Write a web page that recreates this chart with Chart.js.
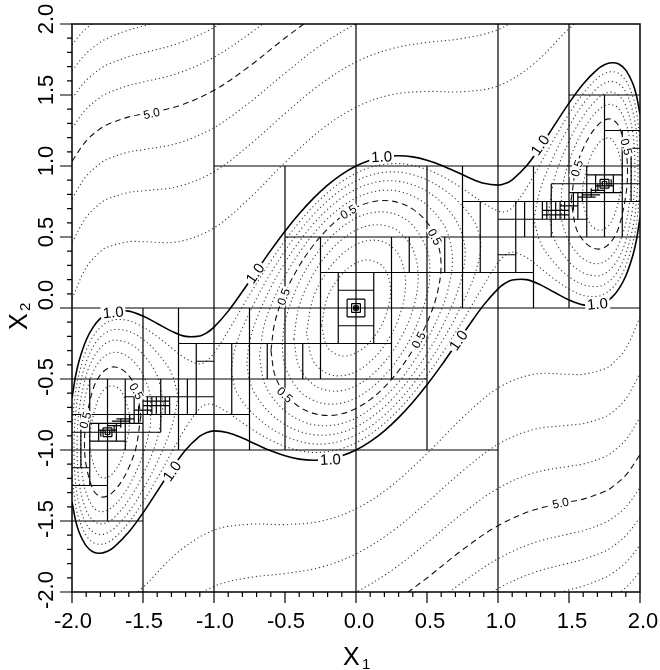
<!DOCTYPE html>
<html>
<head>
<meta charset="utf-8">
<script src="https://cdn.jsdelivr.net/npm/chart.js@4.4.0/dist/chart.umd.min.js"></script>
<style>
html, body { margin: 0; padding: 0; background: #fff; }
</style>
</head>
<body>
<canvas id="myChart" width="660" height="670"></canvas>
<script>
// axis ticks
var tickValues = [-2, -1.5, -1, -0.5, 0, 0.5, 1, 1.5, 2];
var tickLabels = ['-2.0', '-1.5', '-1.0', '-0.5', '0.0', '0.5', '1.0', '1.5', '2.0'];

// contour lines, [x1, x2] pairs
var lev01 = [[-0.243,-0.122],[-0.2,0.078],[-0.1,0.237],[0,0.316],[0.1,0.337],[0.2,0.278],[0.243,0.122],[0.2,-0.078],[0.1,-0.237],[0,-0.316],[-0.1,-0.337],[-0.2,-0.278],[-0.243,-0.122]];
var lev02 = [[-0.349,-0.175],[-0.3,0.076],[-0.2,0.263],[-0.1,0.377],[0,0.447],[0.1,0.477],[0.2,0.463],[0.3,0.376],[0.349,0.175],[0.3,-0.076],[0.2,-0.263],[0.1,-0.377],[0,-0.447],[-0.1,-0.477],[-0.2,-0.463],[-0.3,-0.376],[-0.349,-0.175]];
var lev03 = [[-0.438,-0.219],[-0.4,0.015],[-0.3,0.239],[-0.2,0.381],[-0.1,0.482],[0,0.548],[0.1,0.582],[0.2,0.581],[0.3,0.539],[0.4,0.415],[0.438,0.219],[0.4,-0.015],[0.3,-0.239],[0.2,-0.381],[0.1,-0.482],[0,-0.548],[-0.1,-0.582],[-0.2,-0.581],[-0.3,-0.539],[-0.4,-0.415],[-0.438,-0.219]];
var lev04 = [[-0.52,-0.26],[-0.5,-0.09],[-0.4,0.182],[-0.3,0.351],[-0.2,0.476],[-0.1,0.569],[0,0.633],[0.1,0.669],[0.2,0.676],[0.3,0.651],[0.4,0.582],[0.5,0.41],[0.52,0.26],[0.5,0.09],[0.4,-0.182],[0.3,-0.351],[0.2,-0.476],[0.1,-0.569],[0,-0.633],[-0.1,-0.669],[-0.2,-0.676],[-0.3,-0.651],[-0.4,-0.582],[-0.5,-0.41],[-0.52,-0.26]];
var lev05 = [[-0.599,-0.3],[-0.57,-0.094],[-0.5,0.104],[-0.4,0.296],[-0.3,0.442],[-0.2,0.557],[-0.1,0.645],[0,0.707],[0.1,0.745],[0.2,0.757],[0.3,0.742],[0.4,0.696],[0.5,0.604],[0.57,0.476],[0.599,0.3],[0.57,0.094],[0.5,-0.104],[0.4,-0.296],[0.3,-0.442],[0.2,-0.557],[0.1,-0.645],[0,-0.707],[-0.1,-0.745],[-0.2,-0.757],[-0.3,-0.742],[-0.4,-0.696],[-0.5,-0.604],[-0.57,-0.476],[-0.599,-0.3]];
var lev06 = [[-0.68,-0.34],[-0.65,-0.137],[-0.6,0.014],[-0.5,0.225],[-0.4,0.388],[-0.3,0.522],[-0.2,0.629],[-0.1,0.713],[0,0.775],[0.1,0.813],[0.2,0.829],[0.3,0.822],[0.4,0.788],[0.5,0.725],[0.6,0.614],[0.65,0.513],[0.68,0.34],[0.65,0.137],[0.6,-0.014],[0.5,-0.225],[0.4,-0.388],[0.3,-0.522],[0.2,-0.629],[0.1,-0.713],[0,-0.775],[-0.1,-0.813],[-0.2,-0.829],[-0.3,-0.822],[-0.4,-0.788],[-0.5,-0.725],[-0.6,-0.614],[-0.65,-0.513],[-0.68,-0.34]];
var lev07 = [[-0.769,-0.385],[-0.75,-0.241],[-0.7,-0.076],[-0.6,0.145],[-0.5,0.321],[-0.4,0.468],[-0.3,0.592],[-0.2,0.695],[-0.1,0.776],[0,0.837],[0.1,0.876],[0.2,0.895],[0.3,0.892],[0.4,0.868],[0.5,0.821],[0.6,0.745],[0.7,0.624],[0.75,0.51],[0.769,0.385],[0.75,0.241],[0.7,0.076],[0.6,-0.145],[0.5,-0.321],[0.4,-0.468],[0.3,-0.592],[0.2,-0.695],[0.1,-0.776],[0,-0.837],[-0.1,-0.876],[-0.2,-0.895],[-0.3,-0.892],[-0.4,-0.868],[-0.5,-0.821],[-0.6,-0.745],[-0.7,-0.624],[-0.75,-0.51],[-0.769,-0.385]];
var lev08 = [[-0.879,-0.44],[-0.85,-0.28],[-0.8,-0.142],[-0.7,0.068],[-0.6,0.246],[-0.5,0.402],[-0.4,0.539],[-0.3,0.657],[-0.2,0.755],[-0.1,0.835],[0,0.894],[0.1,0.935],[0.2,0.955],[0.3,0.957],[0.4,0.939],[0.5,0.902],[0.6,0.846],[0.7,0.768],[0.8,0.658],[0.85,0.57],[0.879,0.44],[0.85,0.28],[0.8,0.142],[0.7,-0.068],[0.6,-0.246],[0.5,-0.402],[0.4,-0.539],[0.3,-0.657],[0.2,-0.755],[0.1,-0.835],[0,-0.894],[-0.1,-0.935],[-0.2,-0.955],[-0.3,-0.957],[-0.4,-0.939],[-0.5,-0.902],[-0.6,-0.846],[-0.7,-0.768],[-0.8,-0.658],[-0.85,-0.57],[-0.879,-0.44]];

var lobe04R = [[1.596,0.798],[1.6,0.871],[1.65,1.06],[1.7,1.149],[1.75,1.193],[1.8,1.19],[1.85,1.093],[1.875,0.938],[1.85,0.757],[1.8,0.611],[1.75,0.557],[1.7,0.551],[1.65,0.591],[1.6,0.729],[1.596,0.798]];
var lobe05R = [[1.515,0.758],[1.55,0.987],[1.6,1.124],[1.65,1.219],[1.7,1.285],[1.75,1.324],[1.8,1.329],[1.85,1.283],[1.9,1.109],[1.912,0.956],[1.9,0.791],[1.85,0.567],[1.8,0.471],[1.75,0.426],[1.7,0.415],[1.65,0.431],[1.6,0.476],[1.55,0.563],[1.515,0.758]];
var lobe06R = [[1.446,0.723],[1.45,0.84],[1.5,1.032],[1.55,1.156],[1.6,1.253],[1.65,1.33],[1.7,1.388],[1.75,1.424],[1.8,1.433],[1.85,1.403],[1.9,1.304],[1.93,1.155],[1.939,0.97],[1.93,0.775],[1.9,0.596],[1.85,0.447],[1.8,0.367],[1.75,0.326],[1.7,0.312],[1.65,0.32],[1.6,0.347],[1.55,0.394],[1.5,0.468],[1.45,0.611],[1.446,0.723]];
var lobe07R = [[1.356,0.678],[1.4,0.921],[1.5,1.174],[1.6,1.352],[1.7,1.474],[1.75,1.509],[1.8,1.52],[1.85,1.498],[1.9,1.425],[1.95,1.229],[1.964,0.982],[1.95,0.721],[1.9,0.475],[1.85,0.352],[1.8,0.281],[1.75,0.241],[1.7,0.226],[1.6,0.248],[1.5,0.326],[1.4,0.479],[1.356,0.678]];
var lobe08R = [[1.252,0.626],[1.3,0.842],[1.4,1.086],[1.5,1.279],[1.6,1.437],[1.7,1.55],[1.75,1.583],[1.8,1.596],[1.85,1.579],[1.9,1.52],[1.95,1.381],[1.975,1.229],[1.986,0.993],[1.975,0.747],[1.95,0.569],[1.9,0.38],[1.85,0.271],[1.8,0.204],[1.75,0.167],[1.7,0.151],[1.6,0.164],[1.5,0.221],[1.4,0.314],[1.3,0.458],[1.252,0.626]];

var lobe04L = [[-1.596,-0.798],[-1.6,-0.871],[-1.65,-1.06],[-1.7,-1.149],[-1.75,-1.193],[-1.8,-1.19],[-1.85,-1.093],[-1.875,-0.938],[-1.85,-0.757],[-1.8,-0.611],[-1.75,-0.557],[-1.7,-0.551],[-1.65,-0.591],[-1.6,-0.729],[-1.596,-0.798]];
var lobe05L = [[-1.515,-0.758],[-1.55,-0.987],[-1.6,-1.124],[-1.65,-1.219],[-1.7,-1.285],[-1.75,-1.324],[-1.8,-1.329],[-1.85,-1.283],[-1.9,-1.109],[-1.912,-0.956],[-1.9,-0.791],[-1.85,-0.567],[-1.8,-0.471],[-1.75,-0.426],[-1.7,-0.415],[-1.65,-0.431],[-1.6,-0.476],[-1.55,-0.563],[-1.515,-0.758]];
var lobe06L = [[-1.446,-0.723],[-1.45,-0.84],[-1.5,-1.032],[-1.55,-1.156],[-1.6,-1.253],[-1.65,-1.33],[-1.7,-1.388],[-1.75,-1.424],[-1.8,-1.433],[-1.85,-1.403],[-1.9,-1.304],[-1.93,-1.155],[-1.939,-0.97],[-1.93,-0.775],[-1.9,-0.596],[-1.85,-0.447],[-1.8,-0.367],[-1.75,-0.326],[-1.7,-0.312],[-1.65,-0.32],[-1.6,-0.347],[-1.55,-0.394],[-1.5,-0.468],[-1.45,-0.611],[-1.446,-0.723]];
var lobe07L = [[-1.356,-0.678],[-1.4,-0.921],[-1.5,-1.174],[-1.6,-1.352],[-1.7,-1.474],[-1.75,-1.509],[-1.8,-1.52],[-1.85,-1.498],[-1.9,-1.425],[-1.95,-1.229],[-1.964,-0.982],[-1.95,-0.721],[-1.9,-0.475],[-1.85,-0.352],[-1.8,-0.281],[-1.75,-0.241],[-1.7,-0.226],[-1.6,-0.248],[-1.5,-0.326],[-1.4,-0.479],[-1.356,-0.678]];
var lobe08L = [[-1.252,-0.626],[-1.3,-0.842],[-1.4,-1.086],[-1.5,-1.279],[-1.6,-1.437],[-1.7,-1.55],[-1.75,-1.583],[-1.8,-1.596],[-1.85,-1.579],[-1.9,-1.52],[-1.95,-1.381],[-1.975,-1.229],[-1.986,-0.993],[-1.975,-0.747],[-1.95,-0.569],[-1.9,-0.38],[-1.85,-0.271],[-1.8,-0.204],[-1.75,-0.167],[-1.7,-0.151],[-1.6,-0.164],[-1.5,-0.221],[-1.4,-0.314],[-1.3,-0.458],[-1.252,-0.626]];

var lev09Upper = [[-2,-0.818],[-1.975,-0.59],[-1.95,-0.461],[-1.9,-0.298],[-1.85,-0.198],[-1.8,-0.136],[-1.75,-0.1],[-1.7,-0.082],[-1.6,-0.089],[-1.5,-0.134],[-1.4,-0.201],[-1.3,-0.28],[-1.2,-0.356],[-1.1,-0.394],[-1.05,-0.372],[-1,-0.318],[-0.9,-0.162],[-0.8,0.008],[-0.7,0.174],[-0.6,0.331],[-0.5,0.475],[-0.4,0.604],[-0.3,0.717],[-0.2,0.812],[-0.1,0.89],[0,0.949],[0.1,0.99],[0.2,1.012],[0.3,1.017],[0.4,1.004],[0.5,0.975],[0.6,0.931],[0.7,0.874],[0.8,0.808],[0.9,0.738],[1,0.683],[1.05,0.678],[1.1,0.707],[1.2,0.844],[1.3,1.02],[1.4,1.199],[1.5,1.366],[1.6,1.511],[1.7,1.618],[1.75,1.651],[1.8,1.664],[1.85,1.652],[1.9,1.602],[1.95,1.489],[1.975,1.385],[2,1.183]];
var lev09Lower = [[-2,-1.183],[-1.975,-1.385],[-1.95,-1.489],[-1.9,-1.602],[-1.85,-1.652],[-1.8,-1.664],[-1.75,-1.651],[-1.7,-1.618],[-1.6,-1.511],[-1.5,-1.366],[-1.4,-1.199],[-1.3,-1.02],[-1.2,-0.844],[-1.1,-0.707],[-1.05,-0.678],[-1,-0.683],[-0.9,-0.738],[-0.8,-0.808],[-0.7,-0.874],[-0.6,-0.931],[-0.5,-0.975],[-0.4,-1.004],[-0.3,-1.017],[-0.2,-1.012],[-0.1,-0.99],[0,-0.949],[0.1,-0.89],[0.2,-0.812],[0.3,-0.717],[0.4,-0.604],[0.5,-0.475],[0.6,-0.331],[0.7,-0.174],[0.8,-0.008],[0.9,0.162],[1,0.318],[1.05,0.372],[1.1,0.394],[1.2,0.356],[1.3,0.28],[1.4,0.201],[1.5,0.134],[1.6,0.089],[1.7,0.082],[1.75,0.1],[1.8,0.136],[1.85,0.198],[1.9,0.298],[1.95,0.461],[1.975,0.59],[2,0.818]];
var lev10Upper = [[-2,-0.635],[-1.975,-0.48],[-1.95,-0.371],[-1.9,-0.225],[-1.85,-0.133],[-1.8,-0.073],[-1.75,-0.038],[-1.7,-0.02],[-1.6,-0.022],[-1.5,-0.057],[-1.4,-0.109],[-1.3,-0.163],[-1.2,-0.2],[-1.1,-0.197],[-1.05,-0.174],[-1,-0.135],[-0.9,-0.022],[-0.8,0.116],[-0.7,0.262],[-0.6,0.406],[-0.5,0.541],[-0.4,0.664],[-0.3,0.772],[-0.2,0.865],[-0.1,0.941],[0,1],[0.1,1.041],[0.2,1.065],[0.3,1.072],[0.4,1.064],[0.5,1.041],[0.6,1.006],[0.7,0.962],[0.8,0.916],[0.9,0.878],[1,0.865],[1.05,0.876],[1.1,0.903],[1.2,1.0],[1.3,1.137],[1.4,1.291],[1.5,1.443],[1.6,1.578],[1.7,1.68],[1.75,1.713],[1.8,1.727],[1.85,1.718],[1.9,1.675],[1.95,1.579],[1.975,1.496],[2,1.365]];
var lev10Lower = [[-2,-1.365],[-1.975,-1.496],[-1.95,-1.579],[-1.9,-1.675],[-1.85,-1.718],[-1.8,-1.727],[-1.75,-1.713],[-1.7,-1.68],[-1.6,-1.578],[-1.5,-1.443],[-1.4,-1.291],[-1.3,-1.137],[-1.2,-1.0],[-1.1,-0.903],[-1.05,-0.876],[-1,-0.865],[-0.9,-0.878],[-0.8,-0.916],[-0.7,-0.962],[-0.6,-1.006],[-0.5,-1.041],[-0.4,-1.064],[-0.3,-1.072],[-0.2,-1.065],[-0.1,-1.041],[0,-1],[0.1,-0.941],[0.2,-0.865],[0.3,-0.772],[0.4,-0.664],[0.5,-0.541],[0.6,-0.406],[0.7,-0.262],[0.8,-0.116],[0.9,0.022],[1,0.135],[1.05,0.174],[1.1,0.197],[1.2,0.2],[1.3,0.163],[1.4,0.109],[1.5,0.057],[1.6,0.022],[1.7,0.02],[1.75,0.038],[1.8,0.073],[1.85,0.133],[1.9,0.225],[1.95,0.371],[1.975,0.48],[2,0.635]];

var lev2Upper = [[-2,0.065],[-1.9,0.285],[-1.8,0.398],[-1.75,0.429],[-1.6,0.467],[-1.5,0.467],[-1.25,0.467],[-1,0.564],[-0.75,0.773],[-0.5,1.025],[-0.25,1.252],[0,1.414],[0.25,1.502],[0.5,1.525],[0.75,1.523],[1,1.564],[1.25,1.717],[1.5,1.967],[1.75,2.179]];
var lev2Lower = [[-1.75,-2.179],[-1.5,-1.967],[-1.25,-1.717],[-1,-1.564],[-0.75,-1.523],[-0.5,-1.525],[-0.25,-1.502],[0,-1.414],[0.25,-1.252],[0.5,-1.025],[0.75,-0.773],[1,-0.564],[1.25,-0.467],[1.5,-0.467],[1.6,-0.467],[1.75,-0.429],[1.8,-0.398],[1.9,-0.285],[2,-0.065]];
var lev3Upper = [[-2,0.461],[-1.9,0.639],[-1.8,0.738],[-1.75,0.768],[-1.6,0.814],[-1.5,0.825],[-1.25,0.856],[-1,0.96],[-0.75,1.148],[-0.5,1.37],[-0.25,1.576],[0,1.732],[0.25,1.826],[0.5,1.87],[0.75,1.898],[1,1.96],[1.25,2.106]];
var lev3Lower = [[-1.25,-2.106],[-1,-1.96],[-0.75,-1.898],[-0.5,-1.87],[-0.25,-1.826],[0,-1.732],[0.25,-1.576],[0.5,-1.37],[0.75,-1.148],[1,-0.96],[1.25,-0.856],[1.5,-0.825],[1.6,-0.814],[1.75,-0.768],[1.8,-0.738],[1.9,-0.639],[2,-0.461]];
var lev4Upper = [[-2,0.77],[-1.9,0.928],[-1.8,1.019],[-1.75,1.049],[-1.6,1.099],[-1.5,1.115],[-1.25,1.162],[-1,1.27],[-0.75,1.447],[-0.5,1.654],[-0.25,1.849],[0,2.0],[0.25,2.099]];
var lev4Lower = [[-0.25,-2.099],[0,-2.0],[0.25,-1.849],[0.5,-1.654],[0.75,-1.447],[1,-1.27],[1.25,-1.162],[1.5,-1.115],[1.6,-1.099],[1.75,-1.049],[1.8,-1.019],[1.9,-0.928],[2,-0.77]];
var lev5Upper = [[-2,1.033],[-1.9,1.177],[-1.8,1.264],[-1.75,1.293],[-1.6,1.346],[-1.5,1.367],[-1.25,1.423],[-1,1.533],[-0.75,1.703],[-0.5,1.901],[-0.25,2.087]];
var lev5Lower = [[0.25,-2.087],[0.5,-1.901],[0.75,-1.703],[1,-1.533],[1.25,-1.423],[1.5,-1.367],[1.6,-1.346],[1.75,-1.293],[1.8,-1.264],[1.9,-1.177],[2,-1.033]];
var lev6Upper = [[-2,1.266],[-1.9,1.401],[-1.8,1.484],[-1.75,1.513],[-1.6,1.568],[-1.5,1.591],[-1.25,1.654],[-1,1.766],[-0.75,1.931],[-0.5,2.122]];
var lev6Lower = [[0.5,-2.122],[0.75,-1.931],[1,-1.766],[1.25,-1.654],[1.5,-1.591],[1.6,-1.568],[1.75,-1.513],[1.8,-1.484],[1.9,-1.401],[2,-1.266]];
var lev7Upper = [[-2,1.476],[-1.9,1.604],[-1.8,1.685],[-1.75,1.714],[-1.6,1.77],[-1.5,1.796],[-1.25,1.864],[-1,1.976],[-0.75,2.139]];
var lev7Lower = [[0.75,-2.139],[1,-1.976],[1.25,-1.864],[1.5,-1.796],[1.6,-1.77],[1.75,-1.714],[1.8,-1.685],[1.9,-1.604],[2,-1.476]];
var lev8Upper = [[-2,1.671],[-1.9,1.793],[-1.8,1.872],[-1.75,1.9],[-1.6,1.958],[-1.5,1.985],[-1.25,2.057]];
var lev8Lower = [[1.25,-2.057],[1.5,-1.985],[1.6,-1.958],[1.75,-1.9],[1.8,-1.872],[1.9,-1.793],[2,-1.671]];
var lev9Upper = [[-2,1.852],[-1.95,1.917],[-1.9,1.969],[-1.8,2.047]];
var lev9Lower = [[1.8,-2.047],[1.9,-1.969],[1.95,-1.917],[2,-1.852]];

// box edges of the subdivision: [y, xFrom, xTo] and [x, yFrom, yTo]
var hLines = [
    [0,-2,2],[1,-1,2],[-1,-2,1],[0.5,-0.5,2],[-0.5,-2,0.5],
    [1.5,1.5,2],[-1.5,-2,-1.5],[0.75,0.75,2],[-0.75,-2,-0.75],
    [0.25,-0.25,1.25],[-0.25,-1.25,0.25],
    [0.125,-0.125,0.125],[-0.125,-0.125,0.125],
    [0.0625,-0.0625,0.0625],[-0.0625,-0.0625,0.0625],
    [0.031,-0.031,0.031],[-0.031,-0.031,0.031],[0.016,-0.016,0.016],[-0.016,-0.016,0.016],
    [0.008,-0.008,0.008],[-0.008,-0.008,0.008],
    [0.375,1.0,1.125],[0.875,1.375,2],[1.25,1.75,2],[1.125,1.875,2],[0.625,1.0,1.625],
    [0.8125,1.5,1.875],[0.9375,1.625,1.875],[0.6875,1.3125,1.5],[0.71875,1.4375,1.5625],
    [0.78125,1.5625,1.6875],[0.84375,1.71875,1.78125],[0.90625,1.71875,1.78125],
    [0.859,1.734,1.766],[0.891,1.734,1.766],
    [0.65625,1.3125,1.5],[0.796875,1.59375,1.71875],[0.828125,1.65625,1.75],[0.859375,1.6875,1.8125],
    [-0.375,-1.125,-1.0],[-0.875,-2,-1.375],[-1.25,-2,-1.75],[-1.125,-2,-1.875],[-0.625,-1.625,-1.0],
    [-0.8125,-1.875,-1.5],[-0.9375,-1.875,-1.625],[-0.6875,-1.5,-1.3125],[-0.71875,-1.5625,-1.4375],
    [-0.78125,-1.6875,-1.5625],[-0.84375,-1.78125,-1.71875],[-0.90625,-1.78125,-1.71875],
    [-0.859,-1.766,-1.734],[-0.891,-1.766,-1.734],
    [-0.65625,-1.5,-1.3125],[-0.796875,-1.71875,-1.59375],[-0.828125,-1.75,-1.65625],[-0.859375,-1.8125,-1.6875]
];
var vLines = [
    [-1,-2,2],[0,-2,2],[1,-2,2],[1.5,0,2],[-1.5,-2,0],
    [0.5,-1,1],[-0.5,-1,1],[1.75,0.5,1.5],[-1.75,-1.5,-0.5],
    [0.75,0,1],[-0.75,-1,0],[1.25,0,1],[-1.25,-1,0],
    [0.25,-0.5,0.5],[-0.25,-0.5,0.5],[0.125,-0.25,0.25],[-0.125,-0.25,0.25],
    [0.0625,-0.0625,0.0625],[-0.0625,-0.0625,0.0625],
    [0.031,-0.031,0.031],[-0.031,-0.031,0.031],[0.016,-0.016,0.016],[-0.016,-0.016,0.016],
    [0.008,-0.008,0.008],[-0.008,-0.008,0.008],
    [0.375,0.25,0.5],[0.625,0.25,0.5],[-0.375,-0.5,-0.25],[-0.625,-0.5,-0.25],
    [0.875,0.25,0.75],[-0.875,-0.75,-0.25],[1.125,0.25,0.75],[-1.125,-0.75,-0.25],
    [1.875,0.5,1.25],[1.625,0.5,1.0],[1.375,0.5,0.875],[1.1875,0.5,0.75],
    [1.4375,0.625,0.75],[1.5625,0.625,0.8125],[1.3125,0.625,0.75],
    [1.6875,0.8125,0.9375],[1.8125,0.8125,0.9375],[1.71875,0.84375,0.90625],[1.78125,0.84375,0.90625],
    [1.734,0.859,0.891],[1.766,0.859,0.891],[1.9375,0.75,1.125],
    [1.34375,0.625,0.75],[1.40625,0.625,0.75],[1.46875,0.625,0.75],[1.53125,0.6875,0.8125],
    [1.59375,0.75,0.8125],[1.65625,0.78125,0.84375],[1.703,0.828,0.875],[1.797,0.859,0.906],
    [-1.875,-1.25,-0.5],[-1.625,-1.0,-0.5],[-1.375,-0.875,-0.5],[-1.1875,-0.75,-0.5],
    [-1.4375,-0.75,-0.625],[-1.5625,-0.8125,-0.625],[-1.3125,-0.75,-0.625],
    [-1.6875,-0.9375,-0.8125],[-1.8125,-0.9375,-0.8125],[-1.71875,-0.90625,-0.84375],[-1.78125,-0.90625,-0.84375],
    [-1.766,-0.891,-0.859],[-1.734,-0.891,-0.859],[-1.9375,-1.125,-0.75],
    [-1.34375,-0.75,-0.625],[-1.40625,-0.75,-0.625],[-1.46875,-0.75,-0.625],[-1.53125,-0.8125,-0.6875],
    [-1.59375,-0.8125,-0.75],[-1.65625,-0.84375,-0.78125],[-1.703,-0.875,-0.828],[-1.797,-0.906,-0.859]
];

// contour labels: text, x1, x2, rotation in degrees
var contourLabels = [
    ['1.0', 0.18, 1.066, -3], ['1.0', 1.296, 1.148, -55], ['1.0', 1.70, 0.03, -5], ['1.0', 0.72, -0.228, -55],
    ['1.0', -0.18, -1.066, -3], ['1.0', -1.296, -1.148, -55], ['1.0', -1.71, -0.03, -5], ['1.0', -0.711, 0.244, -55],
    ['0.5', -0.054, 0.678, -32], ['0.5', 0.556, 0.502, 62], ['0.5', -0.512, 0.08, -70], ['0.5', 0.439, -0.225, -62],
    ['0.5', -0.5, -0.61, 43], ['0.5', 1.554, 0.984, -72], ['0.5', 1.906, 1.136, 75],
    ['0.5', -1.544, -0.585, 60], ['0.5', -1.908, -0.79, -75],
    ['5.0', -1.44, 1.372, -12], ['5.0', 1.44, -1.372, -12]
];

var dotLines = [lev01, lev02, lev03, lev04, lev06, lev07, lev08,
    lobe04R, lobe06R, lobe07R, lobe08R, lobe04L, lobe06L, lobe07L, lobe08L,
    lev09Upper, lev09Lower, lev2Upper, lev2Lower, lev3Upper, lev3Lower, lev4Upper, lev4Lower,
    lev6Upper, lev6Lower, lev7Upper, lev7Lower, lev8Upper, lev8Lower, lev9Upper, lev9Lower];
var dashLines = [lev05, lobe05R, lobe05L, lev5Upper, lev5Lower];
var solidLines = [lev10Upper, lev10Lower];

function toPoints(arr) {
    return arr.map(function (p) { return {x: p[0], y: p[1]}; });
}

var datasets = [];
dotLines.forEach(function (c) {
    datasets.push({data: toPoints(c), showLine: true, pointRadius: 0, tension: 0.35,
        borderColor: '#3a3a3a', borderWidth: 1.1, borderDash: [1.2, 2.8], fill: false});
});
dashLines.forEach(function (c) {
    datasets.push({data: toPoints(c), showLine: true, pointRadius: 0, tension: 0.35,
        borderColor: '#111', borderWidth: 1.1, borderDash: [6, 4], fill: false});
});
solidLines.forEach(function (c) {
    datasets.push({data: toPoints(c), showLine: true, pointRadius: 0, tension: 0.35,
        borderColor: '#000', borderWidth: 1.6, fill: false});
});

var FONT = '"Liberation Sans", Arial, Helvetica, sans-serif';

var decor = {
    id: 'decor',
    afterDatasetsDraw: function (chart) {
        var ctx = chart.ctx, a = chart.chartArea;
        var xs = chart.scales.x, ys = chart.scales.y;
        ctx.save();
        ctx.beginPath();
        ctx.rect(a.left, a.top, a.right - a.left, a.bottom - a.top);
        ctx.clip();
        // boxes
        ctx.strokeStyle = '#000';
        ctx.lineWidth = 1.2;
        ctx.beginPath();
        hLines.forEach(function (l) {
            var py = ys.getPixelForValue(l[0]);
            ctx.moveTo(xs.getPixelForValue(l[1]), py);
            ctx.lineTo(xs.getPixelForValue(l[2]), py);
        });
        vLines.forEach(function (l) {
            var px = xs.getPixelForValue(l[0]);
            ctx.moveTo(px, ys.getPixelForValue(l[1]));
            ctx.lineTo(px, ys.getPixelForValue(l[2]));
        });
        ctx.stroke();
        // contour labels
        ctx.textAlign = 'center';
        ctx.textBaseline = 'middle';
        contourLabels.forEach(function (l) {
            var big = l[0] === '1.0';
            ctx.font = (big ? '15px ' : '12px ') + FONT;
            var w = ctx.measureText(l[0]).width + 4;
            var h = big ? 12 : 10;
            ctx.save();
            ctx.translate(xs.getPixelForValue(l[1]), ys.getPixelForValue(l[2]));
            ctx.rotate(l[3] * Math.PI / 180);
            ctx.fillStyle = '#fff';
            ctx.fillRect(-w / 2, -h / 2, w, h);
            ctx.fillStyle = '#000';
            ctx.fillText(l[0], 0, 1);
            ctx.restore();
        });
        ctx.restore();
    },
    afterDraw: function (chart) {
        var ctx = chart.ctx, a = chart.chartArea;
        var xs = chart.scales.x, ys = chart.scales.y;
        ctx.save();
        ctx.strokeStyle = '#000';
        ctx.lineWidth = 1.5;
        ctx.strokeRect(a.left, a.top, a.right - a.left, a.bottom - a.top);
        // ticks
        ctx.lineWidth = 1.2;
        ctx.beginPath();
        for (var i = -20; i <= 20; i++) {
            var v = i / 10, major = (i % 5 === 0);
            var px = xs.getPixelForValue(v), py = ys.getPixelForValue(v);
            ctx.moveTo(px, a.bottom);
            ctx.lineTo(px, a.bottom + (major ? 11 : 5));
            ctx.moveTo(a.left, py);
            ctx.lineTo(a.left - (major ? 12 : 5), py);
        }
        ctx.stroke();
        // tick labels
        ctx.fillStyle = '#000';
        ctx.font = '22px ' + FONT;
        ctx.textAlign = 'center';
        ctx.textBaseline = 'alphabetic';
        tickValues.forEach(function (v, k) {
            var px = xs.getPixelForValue(v);
            ctx.fillText(tickLabels[k], px + (v < 0 ? 1 : 3), 628);
            var py = ys.getPixelForValue(v);
            var off = v === 0 ? -13 : (v > 0 ? -5 : -2);
            ctx.save();
            ctx.translate(53, py + off);
            ctx.rotate(-Math.PI / 2);
            ctx.fillText(tickLabels[k], 0, 0);
            ctx.restore();
        });
        // axis titles
        ctx.textAlign = 'left';
        ctx.font = '25px ' + FONT;
        ctx.fillText('X', 343, 665);
        ctx.font = '15px ' + FONT;
        ctx.fillText('1', 362, 669);
        ctx.save();
        ctx.translate(27, 330);
        ctx.rotate(-Math.PI / 2);
        ctx.font = '25px ' + FONT;
        ctx.fillText('X', 0, 0);
        ctx.font = '15px ' + FONT;
        ctx.fillText('2', 19, 3);
        ctx.restore();
        ctx.restore();
    }
};

var graphTarget = document.getElementById('myChart');
var contourChart = new Chart(graphTarget, {
    type: 'scatter',
    data: {datasets: datasets},
    options: {
        responsive: false,
        animation: false,
        devicePixelRatio: 1,
        events: [],
        layout: {padding: {left: 0, right: 20, top: 24, bottom: 0}},
        plugins: {legend: {display: false}, tooltip: {enabled: false}},
        scales: {
            x: {type: 'linear', min: -2, max: 2,
                ticks: {display: false}, grid: {display: false}, border: {display: false},
                afterFit: function (s) { s.height = 78; }},
            y: {type: 'linear', min: -2, max: 2,
                ticks: {display: false}, grid: {display: false}, border: {display: false},
                afterFit: function (s) { s.width = 72; }}
        }
    },
    plugins: [decor]
});
</script>
</body>
</html>
